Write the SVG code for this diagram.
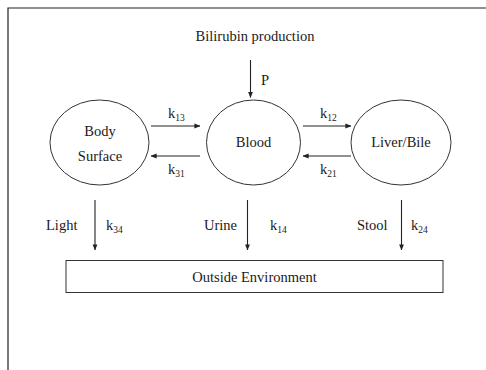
<svg xmlns="http://www.w3.org/2000/svg" width="486" height="370" viewBox="0 0 486 370">
  <style>
    text { font-family: "Liberation Serif", "Times New Roman", serif; font-size: 14.5px; fill: #1a1a1a; }
    .mid { text-anchor: middle; }
    .sub { font-size: 9.5px; }
    .node { fill: #ffffff; stroke: #333333; stroke-width: 1; }
    .edge { stroke: #222222; stroke-width: 1.1; fill: none; marker-end: url(#head); }
    .frame { stroke: #222222; stroke-width: 1.2; fill: none; }
  </style>
  <defs>
    <marker id="head" viewBox="0 0 8 8" refX="7.5" refY="4" markerWidth="6" markerHeight="6" markerUnits="userSpaceOnUse" orient="auto">
      <path d="M0,0.8 L8,4 L0,7.2 Z" fill="#222222"/>
    </marker>
  </defs>
  <rect width="486" height="370" fill="#ffffff"/>
  <!-- page frame: top and left edges -->
  <path class="frame" d="M8,370 V8 H486"/>

  <g id="source">
    <text class="mid" x="255" y="40.5">Bilirubin production</text>
  </g>

  <g id="body-surface">
    <ellipse class="node" cx="99.5" cy="142.5" rx="49.5" ry="42.5"/>
    <text class="mid" x="100" y="135.5">Body</text>
    <text class="mid" x="100" y="161">Surface</text>
  </g>

  <g id="blood">
    <ellipse class="node" cx="253.5" cy="142.5" rx="47" ry="42.5"/>
    <text class="mid" x="253.5" y="147">Blood</text>
  </g>

  <g id="liver-bile">
    <ellipse class="node" cx="401" cy="142.5" rx="50" ry="42.5"/>
    <text class="mid" x="401" y="147">Liver/Bile</text>
  </g>

  <g id="outside">
    <rect class="node" x="66" y="260.5" width="377" height="32"/>
    <text class="mid" x="254.5" y="282">Outside Environment</text>
  </g>

  <g id="connectors">
    <line class="edge" x1="250.5" y1="60" x2="250.5" y2="97.5"/>
    <line class="edge" x1="151" y1="126" x2="200" y2="126"/>
    <line class="edge" x1="200" y1="156" x2="151" y2="156"/>
    <line class="edge" x1="303" y1="126" x2="351" y2="126"/>
    <line class="edge" x1="351" y1="156" x2="303" y2="156"/>
    <line class="edge" x1="95" y1="200" x2="95" y2="250"/>
    <line class="edge" x1="247.5" y1="200" x2="247.5" y2="250"/>
    <line class="edge" x1="401.5" y1="200" x2="401.5" y2="250"/>

    <g id="connector-labels">
      <text x="261" y="85">P</text>
      <text x="168" y="118">k<tspan class="sub" dy="3">13</tspan></text>
      <text x="168" y="173.5">k<tspan class="sub" dy="3">31</tspan></text>
      <text x="320" y="118">k<tspan class="sub" dy="3">12</tspan></text>
      <text x="320" y="173.5">k<tspan class="sub" dy="3">21</tspan></text>
      <text x="46" y="230">Light</text>
      <text x="106" y="230">k<tspan class="sub" dy="3">34</tspan></text>
      <text x="204" y="230">Urine</text>
      <text x="270" y="230">k<tspan class="sub" dy="3">14</tspan></text>
      <text x="357" y="230">Stool</text>
      <text x="411" y="230">k<tspan class="sub" dy="3">24</tspan></text>
    </g>
  </g>
</svg>
